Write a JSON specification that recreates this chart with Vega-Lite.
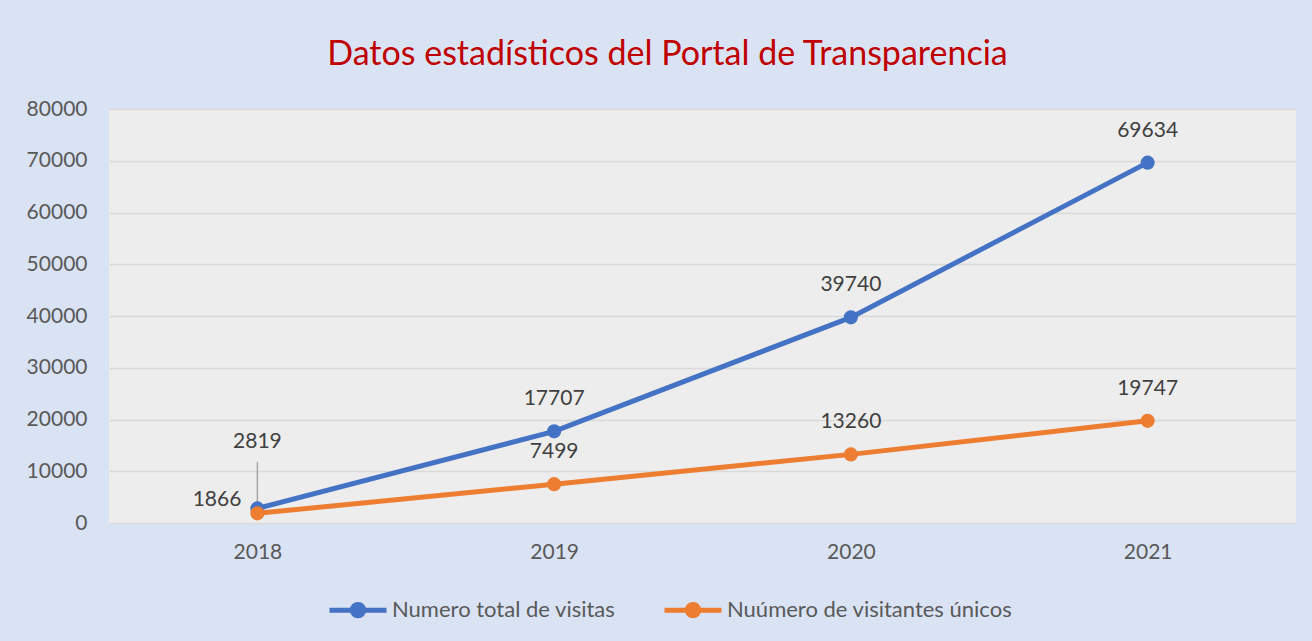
{
  "$schema": "https://vega.github.io/schema/vega-lite/v6.json",
  "width": 1187,
  "height": 414,
  "autosize": {"type": "none"},
  "padding": {"left": 109, "top": 109, "right": 16, "bottom": 118},
  "background": "#DAE3F3",
  "title": {
    "text": "Datos estadísticos del Portal de Transparencia",
    "color": "#C00000",
    "font": "Lato",
    "fontSize": 34,
    "fontWeight": "normal",
    "anchor": "middle",
    "dx": -35,
    "offset": 26
  },
  "config": {
    "view": {"fill": "#EDEDED", "stroke": null},
    "font": "Lato",
    "axis": {
      "labelFont": "Lato",
      "labelFontSize": 21,
      "labelColor": "#595959",
      "domain": false,
      "ticks": false,
      "title": null
    },
    "legend": {"labelFont": "Lato", "labelFontSize": 22, "labelColor": "#595959", "labelLimit": 0}
  },
  "data": {
    "values": [
      {"year": "2018", "series": "Numero total de visitas", "value": 2819},
      {"year": "2019", "series": "Numero total de visitas", "value": 17707},
      {"year": "2020", "series": "Numero total de visitas", "value": 39740},
      {"year": "2021", "series": "Numero total de visitas", "value": 69634},
      {"year": "2018", "series": "Nuúmero de visitantes únicos", "value": 1866},
      {"year": "2019", "series": "Nuúmero de visitantes únicos", "value": 7499},
      {"year": "2020", "series": "Nuúmero de visitantes únicos", "value": 13260},
      {"year": "2021", "series": "Nuúmero de visitantes únicos", "value": 19747}
    ]
  },
  "encoding": {
    "x": {
      "field": "year",
      "type": "ordinal",
      "scale": {"type": "point", "padding": 0.5},
      "axis": {"labelAngle": 0, "labelPadding": 18, "grid": false}
    },
    "y": {
      "field": "value",
      "type": "quantitative",
      "scale": {"domain": [0, 80000]},
      "axis": {
        "values": [0, 10000, 20000, 30000, 40000, 50000, 60000, 70000, 80000],
        "format": "d",
        "labelPadding": 22,
        "gridColor": "#D9D9D9",
        "gridWidth": 1.5
      }
    }
  },
  "layer": [
    {
      "transform": [{"filter": "datum.year == '2018' && datum.series == 'Numero total de visitas'"}],
      "mark": {"type": "rule", "color": "#A6A6A6", "strokeWidth": 1.5},
      "encoding": {"y2": {"datum": 11800}}
    },
    {
      "mark": {"type": "line", "strokeWidth": 5, "point": {"filled": true, "size": 200}},
      "encoding": {
        "color": {
          "field": "series",
          "type": "nominal",
          "sort": ["Numero total de visitas", "Nuúmero de visitantes únicos"],
          "scale": {
            "domain": ["Numero total de visitas", "Nuúmero de visitantes únicos"],
            "range": ["#4472C4", "#ED7D31"]
          },
          "legend": {
            "title": null,
            "orient": "none",
            "direction": "horizontal",
            "legendX": 218,
            "legendY": 470,
            "symbolType": "M-1,0H1M-0.2,0A0.2,0.2 0 1,1 0.2,0A0.2,0.2 0 1,1 -0.2,0Z",
            "symbolSize": 3249,
            "symbolStrokeWidth": 5,
            "labelOffset": 3,
            "columnPadding": 38
          }
        }
      }
    },
    {
      "transform": [{"filter": "datum.year != '2018'"}],
      "mark": {"type": "text", "dy": -32, "fontSize": 21, "color": "#404040", "font": "Lato"},
      "encoding": {"text": {"field": "value", "type": "quantitative", "format": "d"}}
    },
    {
      "transform": [{"filter": "datum.year == '2018' && datum.series == 'Numero total de visitas'"}],
      "mark": {"type": "text", "dy": -66, "fontSize": 21, "color": "#404040", "font": "Lato"},
      "encoding": {"text": {"field": "value", "type": "quantitative", "format": "d"}}
    },
    {
      "transform": [{"filter": "datum.year == '2018' && datum.series == 'Nuúmero de visitantes únicos'"}],
      "mark": {"type": "text", "dy": -13, "dx": -16, "align": "right", "fontSize": 21, "color": "#404040", "font": "Lato"},
      "encoding": {"text": {"field": "value", "type": "quantitative", "format": "d"}}
    }
  ]
}
